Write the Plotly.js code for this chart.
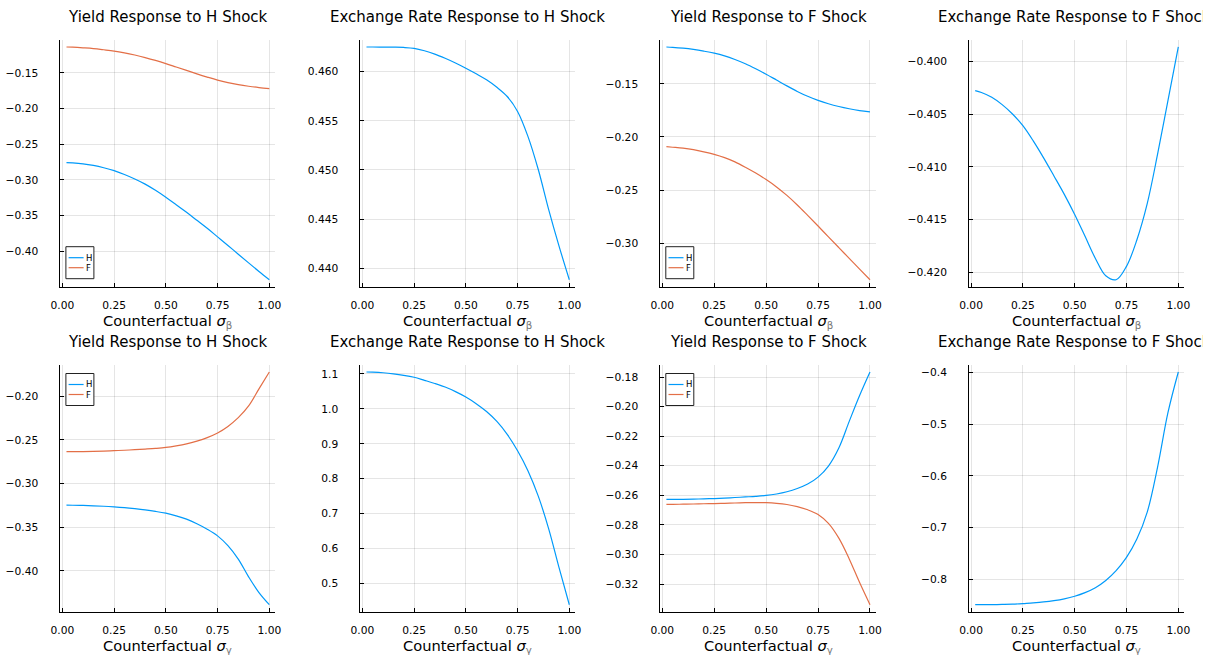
<!DOCTYPE html>
<html><head><meta charset="utf-8">
<script src="https://cdn.plot.ly/plotly-3.0.1.min.js"></script>
<style>html,body{margin:0;padding:0;background:#fff}#chart{width:1215px;height:655px}</style>
</head><body><div id="chart"></div>
<script>
// ---------------- data ----------------
const sigmaGrid = [0.02, 0.05, 0.10, 0.15, 0.20, 0.25, 0.30, 0.35, 0.40, 0.45, 0.50, 0.55, 0.60, 0.65, 0.70, 0.75, 0.80, 0.85, 0.90, 0.95, 1.00];
const seriesNames = ['H', 'F'];
const xTicks = [0, 0.25, 0.5, 0.75, 1.0];

// row 1: counterfactual sigma_beta
const yieldHShockBeta_H = [-0.2759, -0.2762, -0.2775, -0.2798, -0.2830, -0.2871, -0.2925, -0.2988, -0.3060, -0.3147, -0.3244, -0.3348, -0.3455, -0.3567, -0.3680, -0.3800, -0.3920, -0.4043, -0.4165, -0.4285, -0.4401];
const yieldHShockBeta_F = [-0.1136, -0.1139, -0.1148, -0.1159, -0.1175, -0.1193, -0.1218, -0.1249, -0.1285, -0.1325, -0.1369, -0.1417, -0.1465, -0.1513, -0.1558, -0.1600, -0.1635, -0.1664, -0.1687, -0.1705, -0.1719];
const fxHShockBeta = [0.46250, 0.46250, 0.46249, 0.46248, 0.46245, 0.46236, 0.46212, 0.46178, 0.46135, 0.46087, 0.46034, 0.45977, 0.45916, 0.45840, 0.45747, 0.45595, 0.45342, 0.45005, 0.44600, 0.44229, 0.43885];
const yieldFShockBeta_H = [-0.1154, -0.1157, -0.1165, -0.1177, -0.1193, -0.1212, -0.1238, -0.1272, -0.1312, -0.1359, -0.1410, -0.1465, -0.1520, -0.1572, -0.1618, -0.1656, -0.1688, -0.1714, -0.1735, -0.1752, -0.1765];
const yieldFShockBeta_F = [-0.2092, -0.2097, -0.2106, -0.2120, -0.2140, -0.2164, -0.2195, -0.2235, -0.2285, -0.2340, -0.2401, -0.2470, -0.2550, -0.2640, -0.2738, -0.2838, -0.2940, -0.3041, -0.3142, -0.3243, -0.3343];
const fxFShockBeta = [-0.40277, -0.40295, -0.40340, -0.40410, -0.40499, -0.40610, -0.40754, -0.40915, -0.41087, -0.41262, -0.41453, -0.41660, -0.41870, -0.42035, -0.42072, -0.41945, -0.41695, -0.41350, -0.40881, -0.40372, -0.39863];

// row 2: counterfactual sigma_gamma
const yieldHShockGamma_H = [-0.3248, -0.3249, -0.3251, -0.3255, -0.3260, -0.3267, -0.3276, -0.3288, -0.3302, -0.3319, -0.3340, -0.3370, -0.3408, -0.3460, -0.3523, -0.3600, -0.3712, -0.3866, -0.4070, -0.4250, -0.4389];
const yieldHShockGamma_F = [-0.2634, -0.2634, -0.2633, -0.2631, -0.2628, -0.2623, -0.2618, -0.2612, -0.2605, -0.2597, -0.2586, -0.2568, -0.2545, -0.2513, -0.2473, -0.2420, -0.2345, -0.2245, -0.2110, -0.1915, -0.1721];
const fxHShockGamma = [1.1057, 1.1052, 1.1035, 1.1005, 1.0962, 1.0905, 1.0818, 1.0728, 1.0625, 1.0495, 1.0340, 1.0150, 0.9925, 0.9640, 0.9270, 0.8800, 0.8230, 0.7500, 0.6570, 0.5460, 0.4390];
const yieldFShockGamma_H = [-0.2627, -0.2627, -0.2627, -0.2626, -0.2624, -0.2622, -0.2619, -0.2615, -0.2611, -0.2607, -0.2601, -0.2591, -0.2576, -0.2554, -0.2524, -0.2477, -0.2402, -0.2280, -0.2100, -0.1925, -0.1766];
const yieldFShockGamma_F = [-0.2661, -0.2661, -0.2660, -0.2659, -0.2657, -0.2656, -0.2654, -0.2652, -0.2650, -0.2649, -0.2650, -0.2654, -0.2662, -0.2677, -0.2698, -0.2730, -0.2790, -0.2890, -0.3030, -0.3190, -0.3340];
const fxFShockGamma = [-0.8488, -0.8488, -0.8486, -0.8483, -0.8478, -0.8465, -0.8452, -0.8435, -0.8410, -0.8375, -0.8325, -0.8255, -0.8160, -0.8020, -0.7830, -0.7575, -0.7220, -0.6700, -0.5830, -0.4780, -0.3994];

const panelTitles = ['Yield Response to H Shock', 'Exchange Rate Response to H Shock', 'Yield Response to F Shock', 'Exchange Rate Response to F Shock'];
const paramSymbols = ['β', 'γ'];

// ---------------- styling / layout ----------------
const W = 1215, H = 655;
const BLUE = 'rgb(0,154,250)', ORANGE = 'rgb(227,111,71)';
const FONT = 'DejaVu Sans, Liberation Sans, sans-serif';
const colBounds = [[60.4, 275.4], [360.4, 575.4], [660.3, 876.1], [969.1, 1184.4]];
const rowBounds = [[40, 286.7], [365, 611.7]];
const px = v => v / W;
const py = v => 1 - v / H;

const panels = [
  {row: 0, col: 0, series: [yieldHShockBeta_H, yieldHShockBeta_F], fmt: '.2f', dtick: 0.05, legend: 'bottom'},
  {row: 0, col: 1, series: [fxHShockBeta], fmt: '.3f', dtick: 0.005},
  {row: 0, col: 2, series: [yieldFShockBeta_H, yieldFShockBeta_F], fmt: '.2f', dtick: 0.05, legend: 'bottom'},
  {row: 0, col: 3, series: [fxFShockBeta], fmt: '.3f', dtick: 0.005},
  {row: 1, col: 0, series: [yieldHShockGamma_H, yieldHShockGamma_F], fmt: '.2f', dtick: 0.05, legend: 'top'},
  {row: 1, col: 1, series: [fxHShockGamma], fmt: '.1f', dtick: 0.1},
  {row: 1, col: 2, series: [yieldFShockGamma_H, yieldFShockGamma_F], fmt: '.2f', dtick: 0.02, legend: 'top'},
  {row: 1, col: 3, series: [fxFShockGamma], fmt: '.1f', dtick: 0.1},
];
const colors = [BLUE, ORANGE];

function widen(arrs) {
  let lo = Infinity, hi = -Infinity;
  arrs.forEach(a => a.forEach(v => { lo = Math.min(lo, v); hi = Math.max(hi, v); }));
  const e = 0.03 * (hi - lo);
  return [lo - e, hi + e];
}

const traces = [];
const layout = {
  width: W, height: H,
  margin: {l: 0, r: 0, t: 0, b: 0},
  paper_bgcolor: '#fff', plot_bgcolor: '#fff',
  showlegend: false,
  font: {family: FONT, size: 10.67, color: '#000'},
  annotations: [], shapes: []
};

const xr = widen([sigmaGrid]);

panels.forEach((p, i) => {
  const n = i + 1;
  const xa = 'xaxis' + (n === 1 ? '' : n), ya = 'yaxis' + (n === 1 ? '' : n);
  const xid = 'x' + (n === 1 ? '' : n), yid = 'y' + (n === 1 ? '' : n);
  const [cl, cr] = colBounds[p.col];
  const [rt, rb] = rowBounds[p.row];
  p.series.forEach((ys, k) => {
    traces.push({
      x: sigmaGrid, y: ys, type: 'scatter', mode: 'lines',
      name: seriesNames[k], xaxis: xid, yaxis: yid,
      line: {color: colors[k], width: 1.2, shape: 'spline', smoothing: 1},
      hoverinfo: 'x+y'
    });
  });
  const common = {
    showline: true, linecolor: '#000', linewidth: 1, mirror: false,
    showgrid: true, gridcolor: 'rgba(0,0,0,0.1)', gridwidth: 1,
    zeroline: false, ticks: 'inside', ticklen: 4, tickcolor: '#000', tickwidth: 1,
    tickfont: {family: FONT, size: 10.67, color: '#000'}, automargin: false
  };
  layout[xa] = Object.assign({}, common, {
    domain: [px(cl), px(cr)], anchor: yid, range: xr,
    tickvals: xTicks, tickformat: '.2f', ticklabelstandoff: 8
  });
  layout[ya] = Object.assign({}, common, {
    domain: [py(rb), py(rt)], anchor: xid, range: widen(p.series),
    dtick: p.dtick, tick0: 0, tickformat: p.fmt, ticklabelstandoff: 19
  });
  const cx = (cl + cr) / 2;
  // panel title (the rightmost column is cut at the canvas edge, as in the reference)
  const titleAnn = {
    text: panelTitles[p.col], xref: 'paper', yref: 'paper',
    y: py(p.row === 0 ? 17 : 342), yanchor: 'middle',
    showarrow: false, font: {family: FONT, size: 15, color: '#000'}
  };
  if (p.col === 3) {
    Object.assign(titleAnn, {x: px(937.5), xanchor: 'left', align: 'left', width: 265, borderpad: 0, borderwidth: 0});
  } else {
    Object.assign(titleAnn, {x: px(cx), xanchor: 'center'});
  }
  layout.annotations.push(titleAnn);
  // x-axis label
  layout.annotations.push({
    text: 'Counterfactual <i>σ</i><sub><span style="color:#777">' + paramSymbols[p.row] + '</span></sub>',
    xref: 'paper', yref: 'paper',
    x: px(cx), y: py(p.row === 0 ? 321 : 646), xanchor: 'center', yanchor: 'middle',
    showarrow: false, font: {family: FONT, size: 14.67, color: '#000'}
  });
  // legend box
  if (p.legend) {
    const bl = cl + 5.5, bw = 28, bh = 32;
    const bt = p.legend === 'bottom' ? rb - 8 - bh : rt + 8.5;
    layout.shapes.push({type: 'rect', xref: 'paper', yref: 'paper',
      x0: px(bl), x1: px(bl + bw), y0: py(bt + bh), y1: py(bt),
      line: {color: '#222', width: 1}, fillcolor: '#fff', layer: 'above'});
    seriesNames.forEach((nm, k) => {
      const ly = bt + 11 + 10 * k;
      layout.shapes.push({type: 'line', xref: 'paper', yref: 'paper',
        x0: px(bl + 2.7), x1: px(bl + 17.7), y0: py(ly), y1: py(ly),
        line: {color: colors[k], width: 1.2}, layer: 'above'});
      layout.annotations.push({text: nm, xref: 'paper', yref: 'paper',
        x: px(bl + 18.3), y: py(ly), xanchor: 'left', yanchor: 'middle',
        showarrow: false, font: {family: FONT, size: 8.5, color: '#000'}});
    });
  }
});

Plotly.newPlot('chart', traces, layout, {displayModeBar: false, staticPlot: true});
</script></body></html>
